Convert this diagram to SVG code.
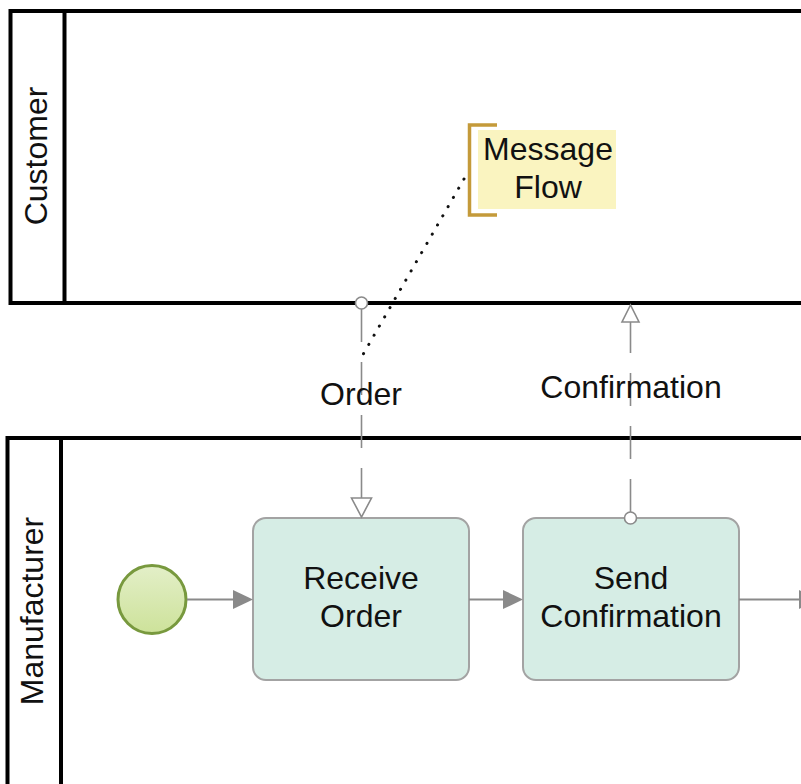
<svg xmlns="http://www.w3.org/2000/svg" width="801" height="784" viewBox="0 0 801 784">
<style>
text{font-family:"Liberation Sans",Arial,sans-serif;font-size:32px;fill:#111;}
.pool{fill:none;stroke:#000;stroke-width:4;}
.task{fill:#d6ede5;stroke:#a3a3a3;stroke-width:2;}
.seq{stroke:#8a8a8a;stroke-width:2;fill:none;}
.msg{stroke:#8a8a8a;stroke-width:1.6;fill:none;stroke-dasharray:33,20;}
.open{fill:#fff;stroke:#8a8a8a;stroke-width:1.6;}
.head{fill:#8a8a8a;stroke:none;}
</style>
<defs>
<linearGradient id="g" x1="0" y1="0" x2="0" y2="1">
<stop offset="0" stop-color="#e3efc8"/>
<stop offset="1" stop-color="#cde29a"/>
</linearGradient>
</defs>
<rect width="801" height="784" fill="#fff"/>
<g id="pool-customer">
<rect class="pool" x="10.5" y="11" width="800" height="292"/>
<line class="pool" x1="64.5" y1="11" x2="64.5" y2="303"/>
<text transform="translate(47,156) rotate(-90)" text-anchor="middle">Customer</text>
</g>
<g id="pool-manufacturer">
<rect class="pool" x="7.5" y="438" width="800" height="400"/>
<line class="pool" x1="61" y1="438" x2="61" y2="784"/>
<text transform="translate(43,611) rotate(-90)" text-anchor="middle">Manufacturer</text>
</g>
<g id="annotation">
<rect x="478" y="130" width="138" height="79" fill="#faf4c0"/>
<path d="M497,125 H469.5 V215 H497" fill="none" stroke="#c49a3a" stroke-width="3.5"/>
<text x="548" y="160" text-anchor="middle">Message</text>
<text x="548" y="198" text-anchor="middle">Flow</text>
</g>
<g id="start">
<circle cx="152" cy="599.5" r="34" fill="url(#g)" stroke="#78993e" stroke-width="3"/>
</g>
<g id="task-receive-order">
<rect class="task" x="253" y="518" width="216" height="162" rx="13"/>
<text x="361" y="589" text-anchor="middle">Receive</text>
<text x="361" y="627" text-anchor="middle">Order</text>
</g>
<g id="task-send-confirmation">
<rect class="task" x="523" y="518" width="216" height="162" rx="13"/>
<text x="631" y="589" text-anchor="middle">Send</text>
<text x="631" y="627" text-anchor="middle">Confirmation</text>
</g>
<g id="connectors">
<line class="seq" x1="187" y1="599.5" x2="236" y2="599.5"/>
<path class="head" d="M233,590 L253,599.5 L233,609 Z"/>
<line class="seq" x1="469" y1="599.5" x2="506" y2="599.5"/>
<path class="head" d="M503,590 L523,599.5 L503,609 Z"/>
<line class="seq" x1="739" y1="599.5" x2="801" y2="599.5"/>
<path class="head" d="M799,590 L819,599.5 L799,609 Z"/>
<line class="msg" x1="361.5" y1="309" x2="361.5" y2="498"/>
<circle class="open" cx="361.5" cy="303" r="6"/>
<path class="open" d="M351.5,498 L371.5,498 L361.5,517 Z"/>
<line class="msg" x1="630.5" y1="512" x2="630.5" y2="322"/>
<circle class="open" cx="630.5" cy="518" r="6"/>
<path class="open" d="M622,322 L639,322 L630.5,305 Z"/>
<line x1="464" y1="179" x2="361" y2="358" stroke="#111" stroke-width="3" stroke-linecap="round" stroke-dasharray="0.1,10.5"/>
<text x="361" y="405" text-anchor="middle">Order</text>
<text x="631" y="398" text-anchor="middle">Confirmation</text>
</g>
</svg>
